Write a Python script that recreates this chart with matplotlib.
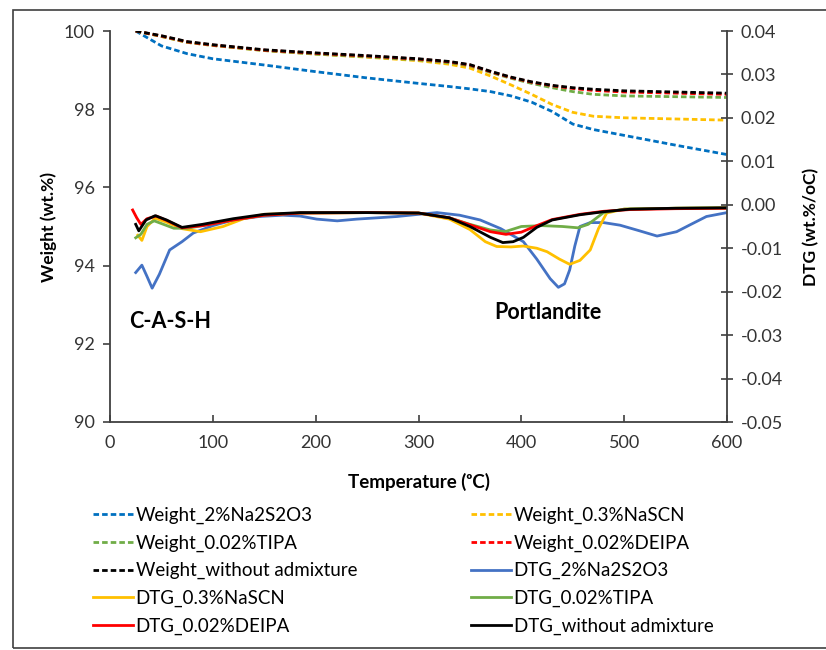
import matplotlib
matplotlib.use("Agg")
import matplotlib.pyplot as plt
from matplotlib.patches import Rectangle

plt.rcParams['font.family'] = ['Lato', 'DejaVu Sans']

# weight curves (wt.%) vs temperature
t_w = [25, 50, 75, 100, 150, 200, 250, 300, 330, 350, 370, 390, 410, 430, 450, 470, 500, 550, 600]
w_na2s2o3 = [100, 99.62, 99.42, 99.29, 99.13, 98.96, 98.80, 98.66, 98.58, 98.52, 98.45, 98.34,
             98.18, 97.94, 97.62, 97.48, 97.33, 97.08, 96.84]
w_nascn = [100, 99.86, 99.71, 99.63, 99.50, 99.41, 99.33, 99.24, 99.15, 99.05, 98.85, 98.62,
           98.38, 98.12, 97.92, 97.82, 97.78, 97.75, 97.72]
w_tipa = [100, 99.86, 99.71, 99.63, 99.50, 99.41, 99.34, 99.26, 99.19, 99.11, 98.94, 98.79,
          98.66, 98.55, 98.45, 98.38, 98.34, 98.32, 98.30]
w_deipa = [100, 99.87, 99.72, 99.64, 99.51, 99.43, 99.36, 99.28, 99.21, 99.13, 98.96, 98.81,
           98.69, 98.60, 98.53, 98.48, 98.44, 98.41, 98.38]
w_none = [100, 99.88, 99.73, 99.65, 99.52, 99.44, 99.37, 99.29, 99.22, 99.14, 98.97, 98.82,
          98.70, 98.61, 98.55, 98.51, 98.47, 98.44, 98.41]

# DTG curves (wt.%/oC)
t_na2s2o3 = [25, 31, 36, 41, 48, 58, 70, 81, 100, 120, 145, 168, 185, 201, 221, 240, 260, 279, 300,
             318, 340, 360, 380, 402, 415, 428, 436, 442, 447, 452, 457, 467, 480, 496, 515, 532,
             551, 565, 580, 600]
d_na2s2o3 = [-0.0156, -0.0139, -0.0165, -0.0192, -0.0160, -0.0104, -0.0085, -0.0065, -0.0048,
             -0.0035, -0.0027, -0.0024, -0.0026, -0.0033, -0.0037, -0.0033, -0.0030, -0.0027,
             -0.0022, -0.0018, -0.0024, -0.0035, -0.0055, -0.0085, -0.0125, -0.0170, -0.0190,
             -0.0182, -0.0150, -0.0095, -0.0050, -0.0041, -0.0041, -0.0047, -0.0060, -0.0072,
             -0.0062, -0.0045, -0.0027, -0.0018]
t_nascn = [27, 31, 36, 44, 55, 70, 88, 110, 130, 150, 185, 250, 300, 330, 350, 365, 376, 390, 402,
           415, 425, 437, 447, 457, 467, 475, 483, 500, 550, 600]
d_nascn = [-0.0070, -0.0082, -0.0050, -0.0031, -0.0040, -0.0055, -0.0062, -0.0050, -0.0032,
           -0.0022, -0.0019, -0.0018, -0.0019, -0.0033, -0.0057, -0.0085, -0.0096, -0.0097,
           -0.0095, -0.0100, -0.0108, -0.0125, -0.0137, -0.0128, -0.0104, -0.0055, -0.0019,
           -0.0010, -0.0008, -0.0007]
t_tipa = [25, 30, 36, 43, 52, 62, 75, 90, 120, 150, 185, 250, 300, 330, 350, 370, 384, 400, 420,
          440, 455, 465, 480, 500, 550, 600]
d_tipa = [-0.0076, -0.0068, -0.0045, -0.0037, -0.0045, -0.0054, -0.0054, -0.0048, -0.0035,
          -0.0024, -0.0019, -0.0018, -0.0019, -0.0030, -0.0045, -0.0058, -0.0062, -0.0050,
          -0.0048, -0.0050, -0.0053, -0.0045, -0.0018, -0.0010, -0.0008, -0.0007]
t_deipa = [22, 26, 30, 36, 45, 55, 70, 90, 120, 150, 185, 250, 300, 330, 350, 370, 385, 400, 415,
           430, 457, 480, 506, 550, 600]
d_deipa = [-0.0012, -0.0030, -0.0045, -0.0032, -0.0026, -0.0036, -0.0053, -0.0048, -0.0035,
           -0.0024, -0.0019, -0.0018, -0.0019, -0.0030, -0.0046, -0.0062, -0.0068, -0.0063,
           -0.0048, -0.0034, -0.0022, -0.0015, -0.0011, -0.0009, -0.0008]
t_none = [25, 28, 35, 44, 55, 70, 90, 120, 150, 185, 250, 300, 330, 350, 370, 382, 392, 402, 415,
          430, 457, 480, 506, 550, 600]
d_none = [-0.0045, -0.0060, -0.0035, -0.0025, -0.0035, -0.0052, -0.0045, -0.0032, -0.0022,
          -0.0018, -0.0018, -0.0019, -0.0030, -0.0050, -0.0075, -0.0087, -0.0085, -0.0075,
          -0.0052, -0.0035, -0.0023, -0.0016, -0.0010, -0.0008, -0.0007]

fig = plt.figure(figsize=(8.26, 6.5), dpi=100)
ax = fig.add_axes([110 / 826, 1 - 422 / 650, 617 / 826, 391 / 650])
ax2 = ax.twinx()

dash = (0, (2.0, 1.1))
lw = 2.0
weights = [
    (w_na2s2o3, '#0070C0', 'Weight_2%Na2S2O3'),
    (w_nascn, '#FFC000', 'Weight_0.3%NaSCN'),
    (w_tipa, '#70AD47', 'Weight_0.02%TIPA'),
    (w_deipa, '#FF0000', 'Weight_0.02%DEIPA'),
    (w_none, '#000000', 'Weight_without admixture'),
]
dtgs = [
    (t_na2s2o3, d_na2s2o3, '#4472C4', 'DTG_2%Na2S2O3'),
    (t_nascn, d_nascn, '#FFC000', 'DTG_0.3%NaSCN'),
    (t_tipa, d_tipa, '#70AD47', 'DTG_0.02%TIPA'),
    (t_deipa, d_deipa, '#FF0000', 'DTG_0.02%DEIPA'),
    (t_none, d_none, '#000000', 'DTG_without admixture'),
]

handles = []
for w, c, lab in weights:
    h, = ax.plot(t_w, w, color=c, lw=lw, linestyle=dash, label=lab)
    handles.append(h)
for t, d, c, lab in dtgs:
    h, = ax2.plot(t, d, color=c, lw=lw, label=lab)
    handles.append(h)

ax.set_xlim(0, 600)
ax.set_ylim(90, 100)
ax2.set_ylim(-0.05, 0.04)
ax.set_xticks(range(0, 601, 100))
ax.set_yticks(range(90, 101, 2))
ax2.set_yticks([0.04, 0.03, 0.02, 0.01, 0.0, -0.01, -0.02, -0.03, -0.04, -0.05])
ax2.set_yticklabels(['0.04', '0.03', '0.02', '0.01', '0.00', '-0.01', '-0.02', '-0.03', '-0.04', '-0.05'])

for a in (ax, ax2):
    a.spines['top'].set_visible(False)
    for s in a.spines.values():
        s.set_color('#404040')
        s.set_linewidth(1.3)
ax.spines['right'].set_visible(False)
ax2.spines['left'].set_visible(False)
ax2.spines['bottom'].set_visible(False)

ax.tick_params(axis='x', direction='in', length=5, width=1.2, colors='#404040',
               labelcolor='#333333', labelsize=13, pad=9)
ax.tick_params(axis='y', direction='out', length=5, width=1.2, colors='#404040',
               labelcolor='#333333', labelsize=13, pad=6)
ax2.tick_params(axis='y', direction='inout', length=8, width=1.2, colors='#404040',
                labelcolor='#333333', labelsize=13, pad=6)

ax.set_xlabel('Temperature (ᵒC)', fontsize=13.5, fontweight='bold', labelpad=16)
ax.set_ylabel('Weight (wt.%)', fontsize=12.5, fontweight='bold', labelpad=5)
ax2.set_ylabel('DTG (wt.%/oC)', fontsize=12.5, fontweight='bold', labelpad=14)

ax.text(19, 92.56, 'C-A-S-H', fontsize=15.5, fontweight='bold', va='center', ha='left')
ax.text(374, 92.81, 'Portlandite', fontsize=15.5, fontweight='bold', va='center', ha='left')

left = handles[0::2]
right = handles[1::2]
for hs, x0 in ((left, 93 / 826), (right, 471 / 826)):
    fig.legend(handles=hs, loc='upper left', bbox_to_anchor=(x0, 1 - 507 / 650),
               frameon=False, fontsize=13.5, handlelength=2.15, handletextpad=0.12,
               labelspacing=0.55, borderpad=0, borderaxespad=0)

fig.patches.append(Rectangle((13 / 826, 2 / 650), 1.0, 638 / 650, transform=fig.transFigure,
                             fill=False, edgecolor='#404040', lw=1.2))

fig.savefig('out.png', dpi=100)
